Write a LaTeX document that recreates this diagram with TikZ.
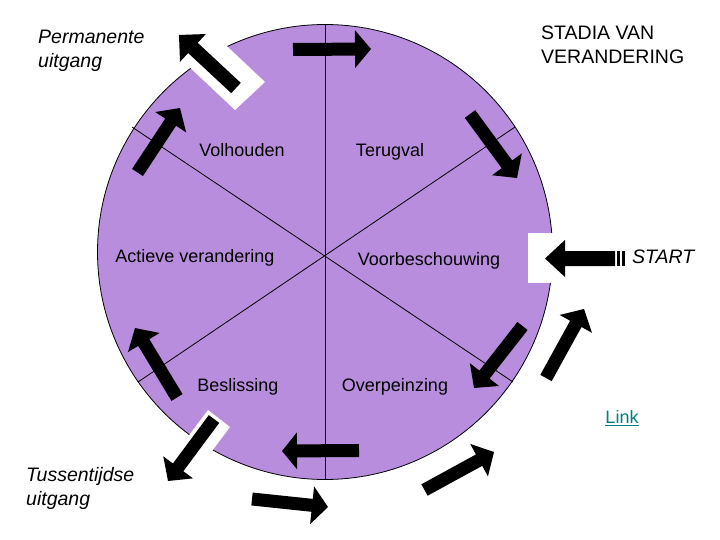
\documentclass[tikz,border=0pt]{standalone}
\usepackage{fontspec}
\setmainfont{Liberation Sans}
\usetikzlibrary{calc}
\definecolor{stagepurple}{RGB}{185,141,221}
\definecolor{linkteal}{RGB}{0,128,128}
\newcommand{\blockarrow}[5]{%
  \path ($(#2)!#5!(#1)$) coordinate (bah);
  \fill[black] ($(#1)!#3!90:(#2)$) -- ($(bah)!#3!90:(#2)$) -- ($(bah)!#4!90:(#2)$) -- (#2)
    -- ($(bah)!#4!-90:(#2)$) -- ($(bah)!#3!-90:(#2)$) -- ($(#1)!#3!-90:(#2)$) -- cycle;
}
\tikzset{
  inlabel/.style={anchor=base, inner sep=0pt, font=\fontsize{18}{21}\selectfont},
  outlabel/.style={anchor=base west, inner sep=0pt, font=\fontsize{19.5}{24}\selectfont},
  divline/.style={line width=0.8pt, black},
  cutout/.style={fill=white, draw=none}
}
\begin{document}
\begin{tikzpicture}[x=1pt,y=-1pt]
\useasboundingbox (0,0) rectangle (720,540);
\fill[white] (0,0) rectangle (720,540);
% wheel
\node[circle, fill=stagepurple, draw=black, line width=0.8pt, minimum size=455pt, inner sep=0pt] (wheel) at (325,252) {};
\draw[divline] (325,24) -- (325,480);
\draw[divline] (132,127) -- (513,382);
\draw[divline] (138,382) -- (515,127);
% white cut-outs
\fill[cutout] (235,110) -- (265,82) -- (214,34) -- (184,62) -- cycle;
\fill[cutout] (528,233) rectangle (600,283);
\fill[cutout] (208,410) -- (230,427) -- (194,475) -- (172,458) -- cycle;
% arrow coordinates
\coordinate (a1t) at (293,49.5);  \coordinate (a1h) at (371,49);
\coordinate (a2t) at (236,88);    \coordinate (a2h) at (179,35);
\coordinate (a3t) at (470,114);   \coordinate (a3h) at (517,178);
\coordinate (a4t) at (615,258.5); \coordinate (a4h) at (545,258.5);
\coordinate (a5t) at (546,378);   \coordinate (a5h) at (584,309);
\coordinate (a6t) at (522.5,326); \coordinate (a6h) at (474,388);
\coordinate (a7t) at (424.5,490); \coordinate (a7h) at (494,452);
\coordinate (a8t) at (359,450.5); \coordinate (a8h) at (282,451);
\coordinate (a9t) at (252,499);   \coordinate (a9h) at (328,507);
\coordinate (a10t) at (214,419);  \coordinate (a10h) at (168,481);
\coordinate (a11t) at (177,397.5);\coordinate (a11h) at (135,328);
\coordinate (a12t) at (137.5,172.5);\coordinate (a12h) at (180,108);
\blockarrow{a1t}{a1h}{6.5pt}{19pt}{16pt}
\blockarrow{a2t}{a2h}{7pt}{19pt}{19pt}
\blockarrow{a3t}{a3h}{6.5pt}{18.5pt}{17pt}
\blockarrow{a4t}{a4h}{7.5pt}{18.5pt}{20pt}
\fill[black] (617,251) rectangle (620,266);
\fill[black] (622,251) rectangle (625,266);
\blockarrow{a5t}{a5h}{6.5pt}{18.5pt}{17pt}
\blockarrow{a6t}{a6h}{6.5pt}{18.5pt}{17pt}
\blockarrow{a7t}{a7h}{6.5pt}{18.5pt}{17pt}
\blockarrow{a8t}{a8h}{6.5pt}{18.5pt}{15pt}
\blockarrow{a9t}{a9h}{6.5pt}{19pt}{16pt}
\blockarrow{a10t}{a10h}{6.5pt}{18.5pt}{17pt}
\blockarrow{a11t}{a11h}{6.5pt}{18.5pt}{17pt}
\blockarrow{a12t}{a12h}{6.5pt}{18.5pt}{17pt}
% stage labels
\node[inlabel] (volhouden) at (242,157) {Volhouden};
\node[inlabel] (terugval) at (390,157) {Terugval};
\node[inlabel] (actieve) at (195,262) {Actieve verandering};
\node[inlabel] (voorbesch) at (429,265) {Voorbeschouwing};
\node[inlabel] (beslissing) at (238,391) {Beslissing};
\node[inlabel] (overpeinzing) at (395,391) {Overpeinzing};
% outer labels
\node[outlabel, font=\fontsize{19.5}{24}\selectfont\itshape] (perm1) at (38,44) {Permanente};
\node[outlabel, font=\fontsize{19.5}{24}\selectfont\itshape] (perm2) at (38,68) {uitgang};
\node[outlabel] (title1) at (541,40) {STADIA VAN};
\node[outlabel] (title2) at (541,64) {VERANDERING};
\node[outlabel, font=\fontsize{19.5}{24}\selectfont\itshape] (start) at (632,263) {START};
\node[outlabel, font=\fontsize{19.5}{24}\selectfont\itshape] (tuss1) at (26,481) {Tussentijdse};
\node[outlabel, font=\fontsize{19.5}{24}\selectfont\itshape] (tuss2) at (26,505) {uitgang};
\node[inlabel, text=linkteal] (link) at (622,423.5) {\underline{Link}};
\end{tikzpicture}
\end{document}
